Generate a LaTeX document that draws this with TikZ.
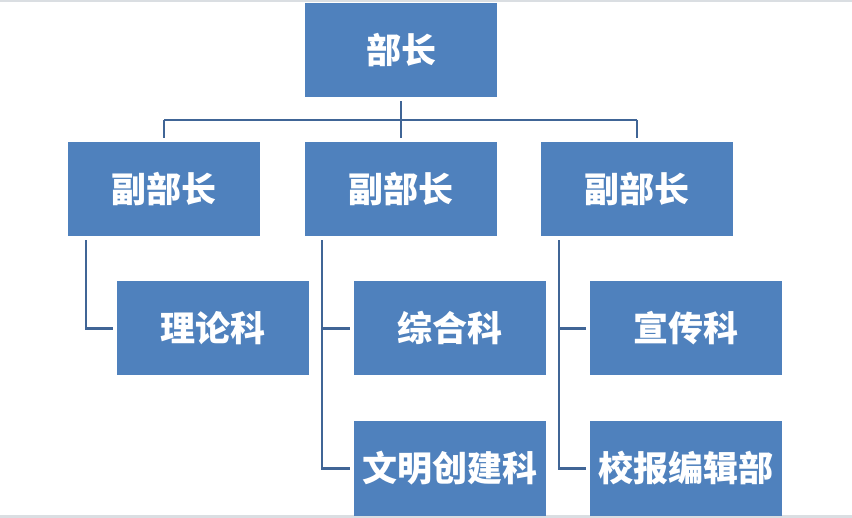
\documentclass[tikz,border=0pt]{standalone}
\usepackage{fontspec}
\usepackage{tikz}
\setmainfont{Noto Sans CJK SC}
\definecolor{boxblue}{RGB}{79,129,189}
\definecolor{linkblue}{RGB}{64,101,150}
\definecolor{edgegray}{RGB}{218,222,226}
\newcommand{\boxtext}[1]{\raisebox{1.2pt}{#1}}

\begin{document}
\begin{tikzpicture}[x=0.5pt,y=-0.5pt,
        unit/.style={rectangle,fill=boxblue,text=white,minimum width=96pt,minimum height=47pt,
            inner sep=0pt,font=\fontsize{17.5pt}{20pt}\selectfont\bfseries},
        link/.style={draw=linkblue,line width=1.35pt}]
        \useasboundingbox (0,0) rectangle (852,518);
        \fill[edgegray] (0,0) rectangle (852,2.5);
        \fill[edgegray] (0,515) rectangle (852,518);
        \node[unit] (head) at (401,50) {\boxtext{部长}};
        \node[unit] (vp1) at (164,189) {\boxtext{副部长}};
        \node[unit] (vp2) at (401,189) {\boxtext{副部长}};
        \node[unit] (vp3) at (637,189) {\boxtext{副部长}};
        \node[unit] (lilun) at (213,328.5) {\boxtext{理论科}};
        \node[unit] (zonghe) at (450,328.5) {\boxtext{综合科}};
        \node[unit] (xuanchuan) at (686,328.5) {\boxtext{宣传科}};
        \node[unit] (wenming) at (450,468.5) {\boxtext{文明创建科}};
        \node[unit] (xiaobao) at (686,468.5) {\boxtext{校报编辑部}};
        \coordinate (bus) at (401,120);
        \draw[link,shorten <=2pt] (head.south) -- (bus);
        \draw[link] (vp1.north |- bus) -- (vp3.north |- bus);
        \draw[link,shorten >=2pt] (vp1.north |- bus) -- (vp1.north);
        \draw[link,shorten >=2pt] (bus) -- (vp2.north);
        \draw[link,shorten >=2pt] (vp3.north |- bus) -- (vp3.north);
        \draw[link,shorten <=2pt,shorten >=2pt] ([xshift=-39pt]vp1.south) |- (lilun.west);
        \draw[link,shorten <=2pt,shorten >=2pt] ([xshift=-39.5pt]vp2.south) |- (zonghe.west);
        \draw[link,shorten <=2pt,shorten >=2pt] ([xshift=-39.5pt]vp2.south) |- (wenming.west);
        \draw[link,shorten <=2pt,shorten >=2pt] ([xshift=-39pt]vp3.south) |- (xuanchuan.west);
        \draw[link,shorten <=2pt,shorten >=2pt] ([xshift=-39pt]vp3.south) |- (xiaobao.west);
    \end{tikzpicture}
\end{document}
